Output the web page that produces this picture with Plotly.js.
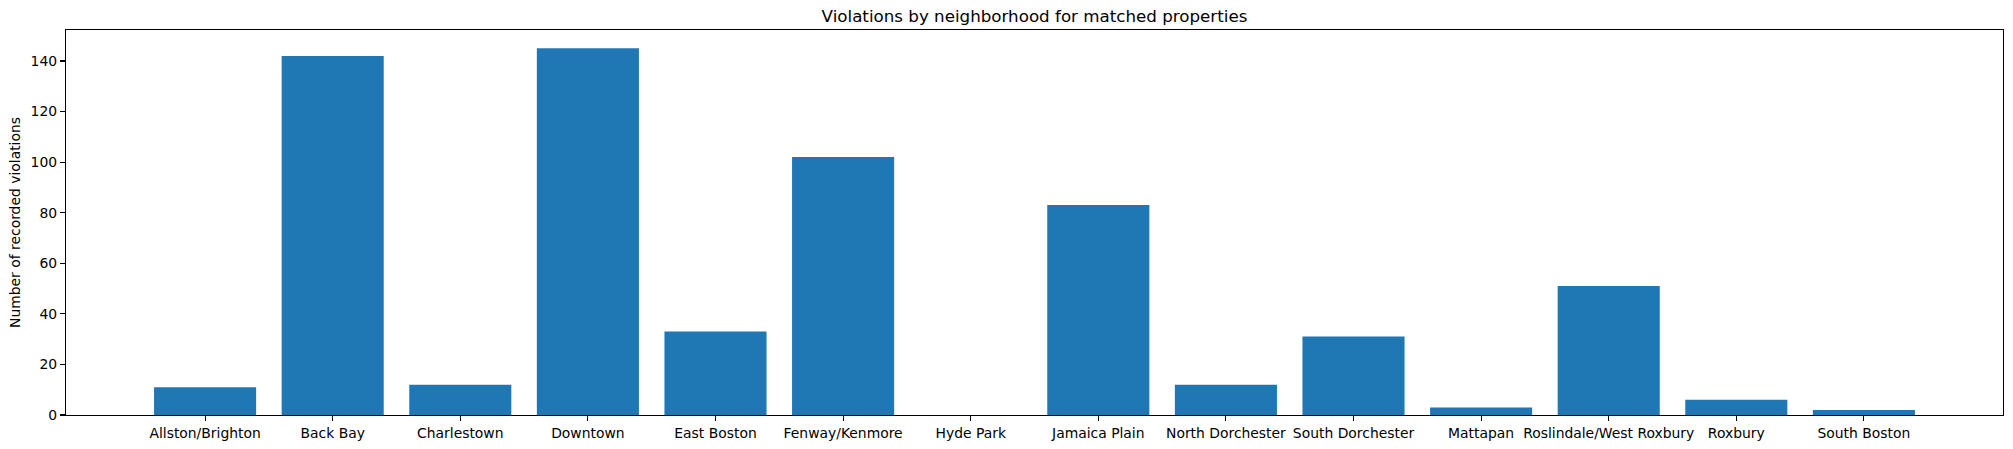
<!DOCTYPE html>
<html>
<head>
<meta charset="utf-8">
<script src="https://cdn.plot.ly/plotly-3.0.1.min.js"></script>
<style>html,body{margin:0;padding:0;background:#fff;}#chart{width:2013px;height:449px;}</style>
</head>
<body>
<div id="chart"></div>
<script>
const neighborhoods = ["Allston/Brighton","Back Bay","Charlestown","Downtown","East Boston","Fenway/Kenmore","Hyde Park","Jamaica Plain","North Dorchester","South Dorchester","Mattapan","Roslindale/West Roxbury","Roxbury","South Boston"];
const violations = [11,142,12,145,33,102,0,83,12,31,3,51,6,2];
const yTicks = [0,20,40,60,80,100,120,140];
const chartTitle = "Violations by neighborhood for matched properties";
const yTitle = "Number of recorded violations";

const font = {family: "DejaVu Sans, sans-serif", size: 13.9, color: "#000"};
const n = neighborhoods.length;
const ymax = Math.max(...violations) * 1.05;

Plotly.newPlot("chart", [{
  type: "bar",
  x: neighborhoods,
  y: violations,
  width: 0.8,
  marker: {color: "#1f77b4", line: {width: 0}},
  hoverinfo: "x+y"
}], {
  width: 2013, height: 449,
  margin: {l: 66, r: 10, t: 30, b: 34, pad: 0},
  paper_bgcolor: "#fff", plot_bgcolor: "#fff",
  font: font,
  showlegend: false,
  title: {text: chartTitle, font: {family: font.family, size: 16.7, color: "#000"}, xref: "paper", x: 0.5, xanchor: "center", yref: "container", y: 1 - 16.5/449, yanchor: "middle"},
  xaxis: {
    type: "category",
    categoryorder: "array", categoryarray: neighborhoods,
    range: [-1.09, n - 1 + 1.09],
    showgrid: false, zeroline: false,
    showline: true, linecolor: "#000", linewidth: 1.1, mirror: true,
    ticks: "outside", ticklen: 5, tickwidth: 1.1, tickcolor: "#000",
    tickfont: font, automargin: false, fixedrange: true
  },
  yaxis: {
    range: [0, ymax],
    tickvals: yTicks, ticktext: yTicks.map(String),
    showgrid: false, zeroline: false,
    showline: true, linecolor: "#000", linewidth: 1.1, mirror: true,
    ticks: "outside", ticklen: 5, tickwidth: 1.1, tickcolor: "#000",
    tickfont: font, automargin: false, fixedrange: true,
    title: {text: yTitle, font: font, standoff: 6}
  }
}, {displayModeBar: false, staticPlot: true});
</script>
</body>
</html>
